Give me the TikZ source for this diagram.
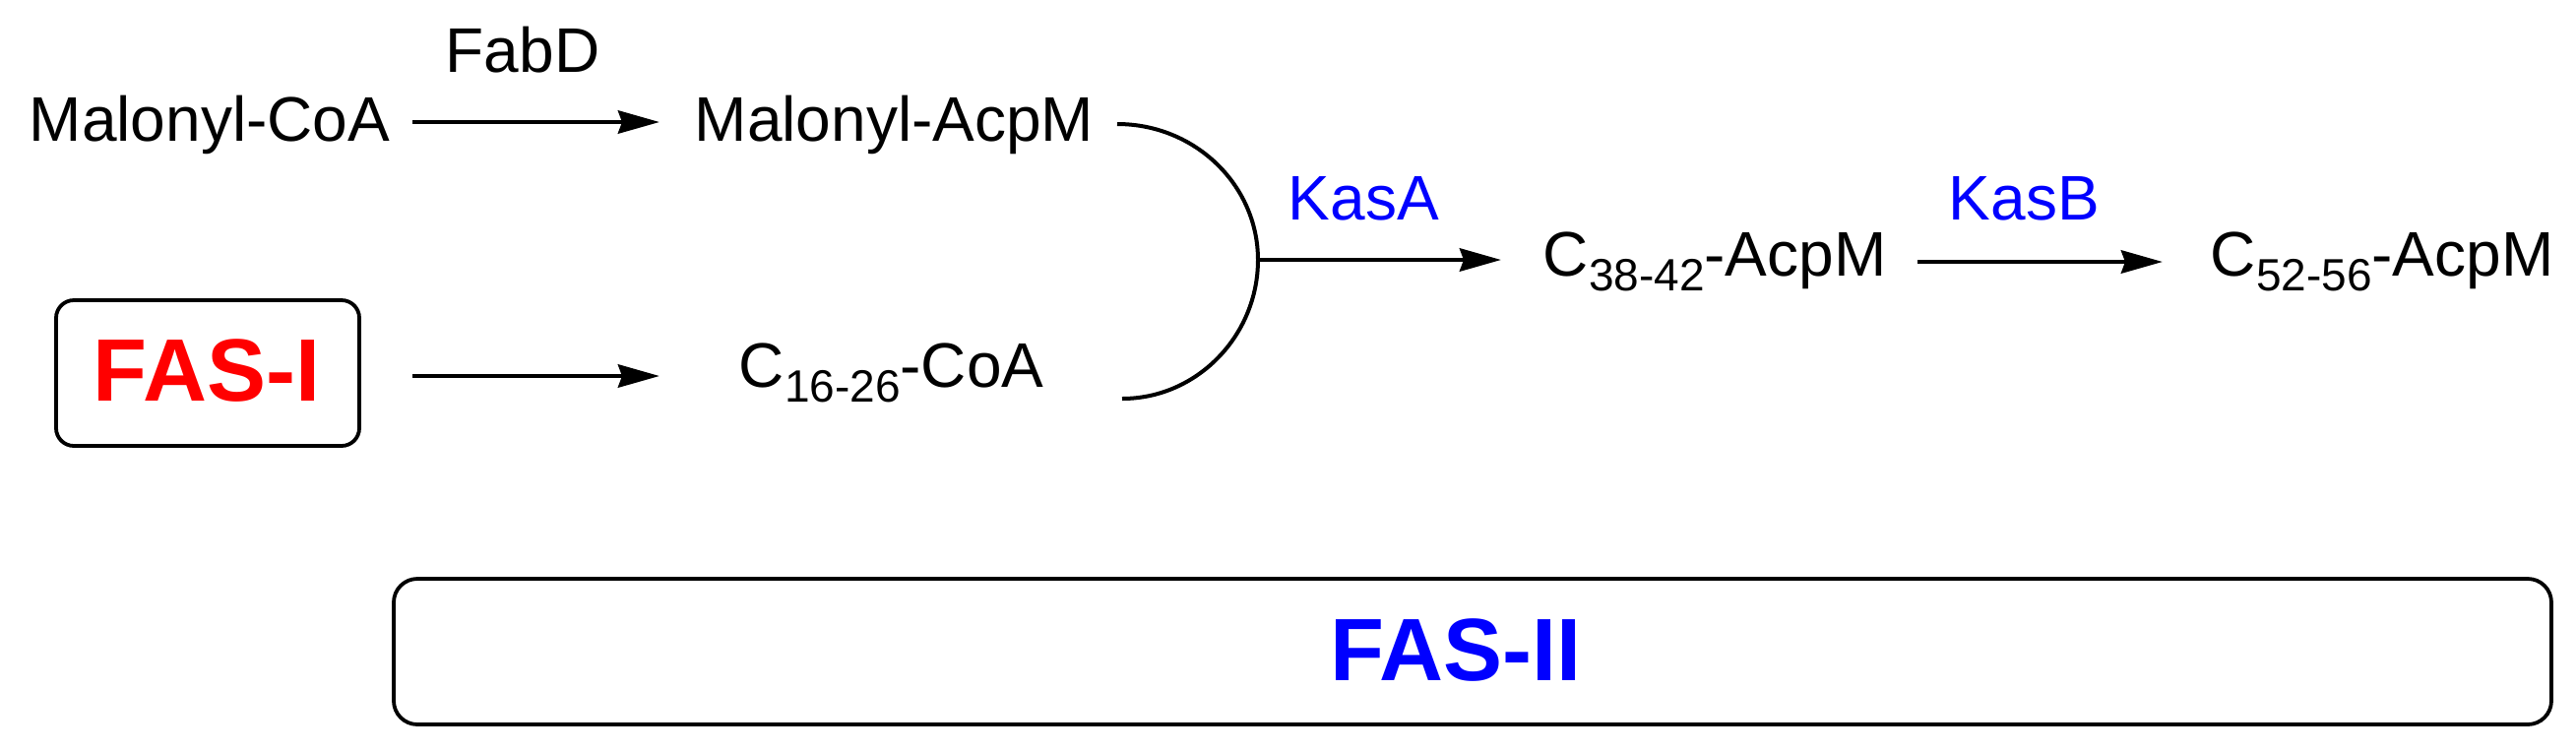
\documentclass[tikz,border=0pt]{standalone}
\usepackage{fontspec}
\setmainfont{Liberation Sans}
\usetikzlibrary{arrows.meta}
\newcommand{\subs}[1]{\raisebox{-3.75pt}{\fontsize{11.5pt}{12pt}\selectfont #1}}
\begin{document}
\begin{tikzpicture}[x=0.25pt,y=-0.25pt,
  lbl/.style={anchor=base west,inner sep=0pt,font=\fontsize{16pt}{19pt}\selectfont},
  enz/.style={lbl,text=blue},
  rxn/.style={line width=1.15pt,-{Stealth[length=10.5pt,width=5.8pt,inset=1pt]}},
  boxed/.style={draw,line width=0.95pt,rounded corners=5pt,inner sep=0pt,minimum height=37pt},
  big/.style={inner sep=0pt,font=\fontsize{22.5pt}{26pt}\selectfont\bfseries}]
\useasboundingbox (0,0) rectangle (2617,763);
% texts
\node[lbl] (fabd) at (452,73) {FabD};
\node[lbl] (mcoa) at (29,143) {Malonyl-CoA};
\node[lbl] (macp) at (705,143) {Malonyl-AcpM};
\node[lbl] (c16) at (750,393) {C\subs{16-26}-CoA};
\node[enz] (kasa) at (1308,223) {KasA};
\node[lbl] (c38) at (1567,280) {C\subs{38-42}-AcpM};
\node[enz] (kasb) at (1979,223) {KasB};
\node[lbl] (c52) at (2245,280) {C\subs{52-56}-AcpM};
% boxes
\node[boxed,minimum width=77pt,rounded corners=4.5pt] (fas1box) at (211,379) {};
\node[big,text=red] (fas1) at (210,377) {FAS-I};
\node[boxed,minimum width=548pt,rounded corners=6pt] (fas2box) at (1496,662) {};
\node[big,text=blue] (fas2) at (1479,661) {FAS-II};
% connector points
\coordinate (a1s) at (419,124);
\coordinate (a1e) at (670,124);
\coordinate (a2s) at (419,382);
\coordinate (a2e) at (670,382);
\coordinate (arcT) at (1135,126);
\coordinate (arcM) at (1278,264);
\coordinate (arcB) at (1140,405);
\coordinate (kae) at (1525,264);
\coordinate (kbs) at (1948,266);
\coordinate (kbe) at (2197,266);
% arrows
\draw[rxn] (a1s) -- (a1e);
\draw[rxn] (a2s) -- (a2e);
\draw[line width=1pt] (arcT) .. controls (1214,126) and (1278,188) .. (arcM)
  .. controls (1278,341) and (1216,405) .. (arcB);
\draw[rxn] (arcM) -- (kae);
\draw[rxn] (kbs) -- (kbe);
\end{tikzpicture}
\end{document}
